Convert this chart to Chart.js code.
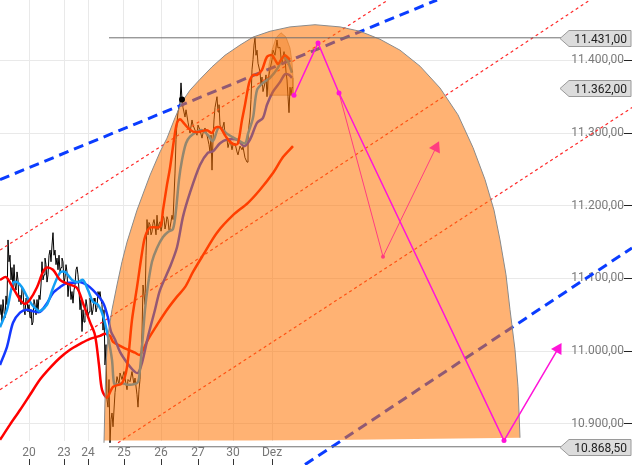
<!DOCTYPE html>
<html lang="de">
<head>
<meta charset="UTF-8">
<title>Chart</title>
<script src="https://cdn.jsdelivr.net/npm/chart.js"></script>
<style>
  html, body { margin: 0; padding: 0; background: #fff; }
  #wrap { width: 632px; height: 465px; }
</style>
</head>
<body>
<div id="wrap"><canvas id="chart" width="632" height="465"></canvas></div>
<script>
// x = bar index, y = index points
const X_MAX = 624;
const Y_MIN = 10877;
const Y_MAX = 11483;

const xTickPos = [29, 64, 88, 124, 161, 198, 233, 272];
const xTickLabels = ['20', '23', '24', '25', '26', '27', '30', 'Dez'];
const yTicks = [10900, 11000, 11100, 11200, 11300, 11400];
const tagValues = [11431, 11362, 10868.5];

const price = [[0,11050],[1,11064],[2,11040],[3,11071],[4,11054],[5,11046],[6,11076],[7,11064],[8,11153],[9,11123],
  [10,11132],[11,11098],[12,11115],[13,11084],[14,11119],[15,11091],[16,11084],[17,11109],[18,11098],[19,11068],
  [20,11077],[21,11064],[22,11087],[23,11084],[24,11057],[25,11050],[26,11073],[27,11071],[28,11054],[29,11064],
  [30,11046],[31,11057],[32,11036],[33,11040],[34,11071],[35,11064],[36,11050],[37,11071],[38,11054],[39,11077],
  [40,11071],[41,11091],[42,11123],[43,11098],[44,11105],[45,11128],[46,11119],[47,11095],[48,11105],[49,11132],
  [50,11139],[51,11123],[52,11146],[53,11163],[54,11132],[55,11139],[56,11119],[57,11128],[58,11112],[59,11132],
  [60,11109],[61,11115],[62,11128],[63,11123],[64,11094],[65,11101],[66,11119],[67,11109],[68,11075],[69,11095],
  [70,11091],[71,11071],[72,11082],[73,11066],[74,11084],[75,11091],[76,11112],[77,11116],[78,11105],[79,11084],
  [80,11057],[81,11071],[82,11027],[83,11057],[84,11040],[85,11049],[86,11071],[87,11062],[88,11046],[89,11054],
  [90,11073],[91,11065],[92,11050],[93,11057],[94,11073],[95,11068],[96,11054],[97,11060],[98,11082],[99,11076],
  [100,11082],[101,11071],[102,11064],[103,11029],[104,11057],[105,10981],[106,11009],[107,10933],[108,10923],[109,10961],
  [110,10874],[111,10906],[112,10915],[113,10896],[115,10943],[117,10965],[119,10954],[120,10970],[122,10961],[124,10972],
  [125,10963],[127,10947],[128,10961],[130,10958],[132,10972],[134,10954],[135,10963],[137,10940],[138,10923],[139,10947],
  [140,10961],[142,11025],[143,11091],[145,11064],[146,11132],[147,11181],[148,11160],[149,11177],[150,11174],[151,11160],
  [152,11164],[153,11176],[154,11181],[155,11172],[156,11160],[157,11187],[158,11167],[159,11175],[160,11178],[161,11165],
  [162,11172],[163,11186],[164,11183],[165,11168],[166,11175],[167,11185],[168,11181],[169,11166],[170,11170],[171,11178],
  [172,11187],[173,11181],[175,11245],[176,11291],[177,11314],[178,11329],[180,11341],[181,11369],[182,11346],[183,11335],
  [185,11322],[186,11332],[188,11315],[190,11300],[192,11318],[193,11311],[195,11304],[197,11297],[198,11311],[200,11304],
  [202,11293],[203,11300],[205,11307],[207,11297],[209,11284],[210,11274],[211,11297],[212,11249],[213,11291],[214,11318],
  [215,11335],[217,11350],[218,11329],[219,11339],[220,11311],[222,11304],[224,11315],[225,11297],[227,11291],[228,11280],
  [230,11291],[232,11277],[233,11284],[235,11286],[237,11274],[238,11270],[240,11282],[242,11277],[243,11281],[245,11266],
  [247,11260],[248,11291],[249,11311],[250,11322],[251,11346],[252,11387],[253,11401],[254,11421],[255,11431],[256,11407],
  [257,11414],[258,11396],[260,11384],[261,11366],[262,11377],[263,11357],[265,11369],[266,11380],[267,11350],[268,11373],
  [270,11387],[272,11401],[273,11414],[275,11407],[277,11428],[278,11417],[280,11418],[281,11403],[282,11396],[284,11412],
  [285,11403],[286,11384],[287,11373],[288,11350],[289,11328],[290,11363],[291,11352],[292,11363],[293,11362]];

const maFastRed = [[0,11098],[6,11102],[13,11087],[20,11071],[25,11065],[30,11071],[37,11088],[43,11109],[47,11115],[53,11112],
  [60,11098],[67,11093],[77,11087],[83,11066],[90,11040],[95,11022],[99,10981],[102,10947],[107,10936],[113,10951],
  [122,10956],[127,10978],[132,11043],[137,11088],[142,11135],[145,11157],[150,11170],[160,11171],[163,11194],[167,11229],
  [170,11252],[174,11291],[177,11314],[180,11319],[183,11315],[188,11307],[193,11302],[200,11302],[207,11304],[212,11300],
  [215,11307],[220,11308],[225,11297],[230,11288],[235,11284],[238,11286],[242,11318],[245,11339],[248,11362],[250,11373],
  [253,11380],[257,11380],[262,11387],[267,11405],[272,11407],[275,11401],[278,11395],[282,11403],[285,11407],[290,11401]];

const maLightBlue = [[0,11033],[7,11057],[13,11094],[17,11095],[22,11088],[27,11075],[32,11064],[37,11057],[40,11055],[47,11064],
  [53,11087],[60,11108],[65,11109],[72,11098],[78,11095],[83,11098],[88,11084],[93,11068],[98,11064],[103,11049],
  [108,11020],[112,10988],[114,10956],[117,10954],[122,10956],[127,10954],[132,10954],[137,10956],[139,10963],[142,11006],
  [145,11057],[148,11091],[152,11123],[157,11142],[163,11157],[168,11164],[173,11168],[176,11194],[179,11236],[182,11263],
  [186,11286],[190,11295],[197,11302],[202,11304],[208,11297],[213,11289],[219,11308],[227,11299],[237,11291],[245,11286],
  [248,11299],[253,11321],[257,11359],[263,11369],[270,11376],[278,11390],[283,11405],[287,11401],[292,11383]];

const maBlue = [[0,10981],[7,11006],[13,11039],[20,11053],[27,11057],[33,11055],[40,11054],[47,11066],[53,11080],[60,11088],
  [67,11094],[73,11094],[80,11095],[87,11091],[93,11084],[100,11073],[104,11064],[108,11046],[111,11027],[115,11016],
  [120,10999],[127,10984],[133,10974],[138,10970],[142,10984],[148,11020],[155,11057],[160,11084],[170,11116],[177,11143],
  [183,11185],[190,11218],[200,11256],[208,11273],[213,11275],[220,11286],[227,11291],[237,11291],[244,11282],[250,11291],
  [257,11314],[263,11321],[267,11339],[273,11357],[280,11370],[285,11381],[289,11380],[292,11376]];

const maSlowRed = [[0,10878],[10,10899],[20,10919],[30,10940],[40,10961],[50,10977],[60,10991],[70,11002],[80,11010],[90,11017],
  [100,11021],[105,11024],[110,11021],[113,11013],[122,11006],[128,11002],[135,10998],[140,10995],[148,11016],[157,11036],
  [167,11057],[177,11075],[185,11088],[193,11109],[203,11132],[217,11163],[233,11187],[248,11204],[260,11222],[273,11245],
  [283,11267],[293,11282]];

const arcOutline = [[104,10874],[105,10933],[106,10981],[108,11022],[112,11057],[117,11091],[122,11123],[127,11150],[137,11194],[150,11242],
  [160,11274],[167,11293],[175,11321],[182,11343],[190,11359],[200,11374],[212,11391],[225,11407],[240,11421],[253,11432],
  [270,11440],[290,11446],[315,11449],[340,11446],[360,11440],[380,11429],[400,11414],[420,11392],[440,11362],[458,11325],
  [473,11280],[485,11236],[494,11194],[500,11153],[506,11105],[510,11057],[515,11002],[518,10951],[520,10881],[104,10874]];

const smallArc = [[269,11352],[268,11373],[269,11394],[272,11414],[276,11431],[281,11438],[286,11432],[290,11417],[292,11398],[293,11376],
  [293,11352],[269,11352]];

const blueUpper = [[0,11236],[437,11483]];
const blueLower = [[305,10844],[632,11142]];
const redA = [[0,11139],[388,11483]];
const redB = [[0,10947],[590,11483]];
const redC = [[118,10874],[632,11335]];
const highLine = [[109,11431],[561,11431]];
const lowLine = [[109,10868.5],[561,10868.5]];
const anchorPoint = [[182,11346]];
const arrowMain = [[294,11352],[318,11424],[339,11355],[504,10877],[558,11003]];
const arrowSide = [[339,11355],[383,11130],[436,11280]];

function fmt(v) {
  return v.toFixed(2).replace('.', ',').replace(/\B(?=(\d{3})+(?!\d))/g, '.');
}

const pts = a => a.map(([x, y]) => ({ x, y }));

function line(data, color, width, extra) {
  return Object.assign({
    data: pts(data), borderColor: color, borderWidth: width,
    pointRadius: 0, fill: false, tension: 0, clip: false
  }, extra);
}

function arrow(data, color, width, dotR) {
  const last = data.length - 1;
  return line(data, color, width, {
    order: 0,
    pointStyle: c => c.dataIndex === last ? 'triangle' : 'circle',
    pointRadius: c => c.dataIndex === last ? 7 : dotR,
    pointBackgroundColor: color,
    pointBorderColor: color,
    pointBorderWidth: 0,
    pointRotation: c => {
      if (c.dataIndex !== last) return 0;
      const xs = c.chart.scales.x, ys = c.chart.scales.y;
      const dx = xs.getPixelForValue(data[last][0]) - xs.getPixelForValue(data[last - 1][0]);
      const dy = ys.getPixelForValue(data[last][1]) - ys.getPixelForValue(data[last - 1][1]);
      return Math.atan2(dx, -dy) * 180 / Math.PI;
    }
  });
}

const overlay = {
  id: 'overlay',
  afterDatasetsDraw(chart) {
    const { ctx, scales: { x, y } } = chart;
    ctx.save();
    ctx.strokeStyle = '#333';
    ctx.lineWidth = 1;
    x.ticks.forEach(t => {
      const px = Math.round(x.getPixelForValue(t.value)) + 0.5;
      ctx.beginPath();
      ctx.moveTo(px, chart.height - 6);
      ctx.lineTo(px, chart.height);
      ctx.stroke();
    });
    ctx.font = '12px Roboto';
    ctx.textAlign = 'right';
    ctx.textBaseline = 'middle';
    tagValues.forEach(v => {
      const py = Math.round(y.getPixelForValue(v)) + 0.5;
      const r = chart.width - 1, l = r - 71, h = 8;
      ctx.beginPath();
      ctx.moveTo(l, py);
      ctx.lineTo(l + 9, py - h);
      ctx.lineTo(r, py - h);
      ctx.lineTo(r, py + h);
      ctx.lineTo(l + 9, py + h);
      ctx.closePath();
      ctx.fillStyle = '#dcdcdc';
      ctx.fill();
      ctx.strokeStyle = '#9a9a9a';
      ctx.stroke();
      ctx.fillStyle = '#222';
      ctx.fillText(fmt(v), r - 4, py + 1);
    });
    ctx.restore();
  }
};

const arcLast = arcOutline.length - 2;

new Chart(document.getElementById('chart'), {
  type: 'line',
  data: {
    datasets: [
      arrow(arrowMain, '#ff14d8', 1.5, 2.5),
      arrow(arrowSide, '#ff3d80', 1, 2),
      line(anchorPoint, '#000', 1, { order: 0, pointRadius: 3, pointBackgroundColor: '#000', pointBorderWidth: 0 }),
      line(highLine, '#707070', 1, { order: 1 }),
      line(lowLine, '#707070', 1, { order: 1 }),
      line(smallArc, 'rgba(190,90,0,0.35)', 1, { order: 2, fill: 'shape', backgroundColor: 'rgba(235,110,10,0.35)' }),
      line(arcOutline, '#8a8a8a', 1, {
        order: 3, fill: 'shape', backgroundColor: 'rgba(255,115,0,0.55)',
        segment: { borderColor: c => c.p0DataIndex === arcLast ? 'rgba(0,0,0,0)' : undefined }
      }),
      line(maFastRed, '#ff0000', 2.5, { order: 4, tension: 0.3 }),
      line(maLightBlue, '#139ff5', 2.5, { order: 4, tension: 0.3 }),
      line(maBlue, '#1438ff', 2.5, { order: 4, tension: 0.3 }),
      line(maSlowRed, '#ff0000', 2.5, { order: 4, tension: 0.3 }),
      line(blueUpper, '#0a3cff', 3, { order: 5, borderDash: [10, 6] }),
      line(blueLower, '#0a3cff', 3, { order: 5, borderDash: [10, 6] }),
      line(redA, '#ff2a2a', 1.2, { order: 5, borderDash: [3, 3] }),
      line(redB, '#ff2a2a', 1.2, { order: 5, borderDash: [3, 3] }),
      line(redC, '#ff2a2a', 1.2, { order: 5, borderDash: [3, 3] }),
      line(price, '#000', 1, { order: 6 })
    ]
  },
  options: {
    responsive: false,
    animation: false,
    devicePixelRatio: 1,
    events: [],
    layout: { padding: 0, autoPadding: false },
    plugins: { legend: { display: false }, tooltip: { enabled: false } },
    scales: {
      x: {
        type: 'linear', min: 0, max: X_MAX,
        afterBuildTicks: s => { s.ticks = xTickPos.map(v => ({ value: v })); },
        grid: { color: '#e9e9e9', drawTicks: false },
        border: { display: false },
        ticks: {
          padding: 5, color: '#777', autoSkip: false, maxRotation: 0,
          font: { family: 'Roboto', size: 12 },
          callback: (v, i) => xTickLabels[i]
        }
      },
      y: {
        type: 'linear', position: 'right', min: Y_MIN, max: Y_MAX,
        afterBuildTicks: s => { s.ticks = yTicks.map(v => ({ value: v })); },
        afterFit: s => { s.paddingTop = 0; s.paddingBottom = 0; },
        grid: { color: '#e9e9e9', drawTicks: true, tickLength: 8, tickColor: '#222' },
        border: { display: false },
        ticks: {
          mirror: true, padding: 0, color: '#7a7a7a',
          font: { family: 'Roboto', size: 12 },
          callback: v => fmt(v)
        }
      }
    }
  },
  plugins: [overlay]
});
</script>
</body>
</html>
